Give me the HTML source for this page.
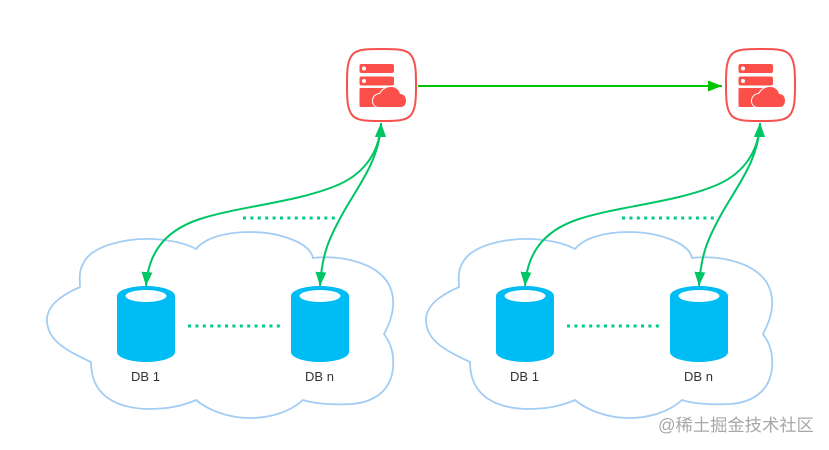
<!DOCTYPE html>
<html><head><meta charset="utf-8"><style>
html,body{margin:0;padding:0;background:#fff}
svg{display:block}
text{font-family:"Liberation Sans","Noto Sans CJK SC",sans-serif}
</style></head><body>
<svg width="829" height="450" viewBox="0 0 829 450" xmlns="http://www.w3.org/2000/svg">
<defs>
<marker id="a" markerWidth="14" markerHeight="11" viewBox="0 0 14 11" refX="14" refY="5.500" orient="auto-start-reverse" markerUnits="userSpaceOnUse"><path d="M0 0L14 5.500L0 11Z" fill="#00c565"/></marker>
<marker id="b" markerWidth="14" markerHeight="11" viewBox="0 0 14 11" refX="14" refY="5.500" orient="auto" markerUnits="userSpaceOnUse"><path d="M0 0L14 5.500L0 11Z" fill="#00c400"/></marker>
<g id="db">
<path d="M117 296C117 290 131 286 146 286C161 286 175 290 175 296V352C175 358 161 362 146 362C131 362 117 358 117 352Z" fill="#00bcf5"/>
<ellipse cx="146" cy="296" rx="20.500" ry="6" fill="#fff"/>
</g>
<g id="srv">
<path d="M381.500 49C395 49 405 49 410 54C416 60 416 72 416 85C416 98 416 110 410 116C405 121 395 121 381.500 121C368 121 358 121 353 116C347 110 347 98 347 85C347 72 347 60 353 54C358 49 368 49 381.500 49Z" fill="#fff" stroke="#f5514d" stroke-width="2"/>
<rect x="359.500" y="64" width="34.500" height="9" rx="2" fill="#fb504a"/>
<rect x="359.500" y="76.500" width="34.500" height="9" rx="2" fill="#fb504a"/>
<rect x="359.500" y="88" width="27" height="19" rx="1" fill="#fb504a"/>
<circle cx="364" cy="68.500" r="2" fill="#fff"/><circle cx="364" cy="81" r="2" fill="#fff"/>
<path d="M379 107C375 107 373 104 373 101C373 97 376 94 380 94C382 90 386 87 391 87C396 87 399 90 400 94C404 94 406 97 406 101C406 104 404 107 401 107Z" fill="#fb504a" stroke="#fff" stroke-width="2" paint-order="stroke"/>
</g>
<g id="group">
<path d="M80 287C80 280 78 272 84 262C94 244 130 238 153 239C170 240 185 243 196 249C205 238 225 232 250 232C280 232 310 243 313 258C340 255 375 262 388 283C395 295 396 312 384 334C392 345 394 355 393 368C391 390 375 402 352 404C335 405 315 404 303 400C290 412 270 418 250 418C228 418 208 410 196 400C180 407 165 409 148 409C115 408 91 395 91 362C70 352 47 342 47 320C47 305 62 295 80 287Z" fill="#fff" stroke="#a3cdf3" stroke-width="1.800"/>
<use href="#db"/><use href="#db" x="174"/>
<line x1="188" y1="326" x2="282" y2="326" stroke="#00c88c" stroke-width="3" stroke-dasharray="3 4.400"/>
<line x1="243" y1="218" x2="337" y2="218" stroke="#00c88c" stroke-width="3" stroke-dasharray="3 4.400"/>
<path d="M146 286C148 258 160 232 200 219C240 206 300 202 340 184C366 172 380 150 381 123" fill="none" stroke="#00c565" stroke-width="2" marker-start="url(#a)" marker-end="url(#a)"/>
<path d="M320 286C322 255 328 240 343 213C358 186 380 160 381 123" fill="none" stroke="#00c565" stroke-width="2" marker-start="url(#a)" marker-end="url(#a)"/>
<use href="#srv"/>
<text x="145.500" y="381" font-size="13" text-anchor="middle" fill="#333">DB 1</text>
<text x="319.500" y="381" font-size="13" text-anchor="middle" fill="#333">DB n</text>
</g>
</defs>
<rect width="829" height="450" fill="#fff"/>
<use href="#group"/>
<use href="#group" x="379"/>
<line x1="418" y1="86" x2="722" y2="86" stroke="#00c400" stroke-width="2" marker-end="url(#b)"/>
<text x="658" y="431" font-size="17.300" fill="#a8a8a8">@稀土掘金技术社区</text>
</svg>
</body></html>
